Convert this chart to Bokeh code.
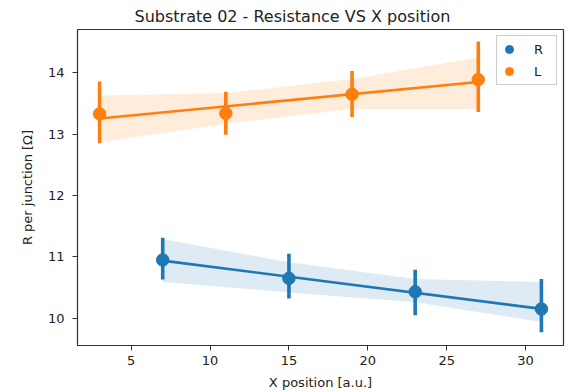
import numpy as np
from bokeh.plotting import figure
from bokeh.models import Range1d, Legend, LegendItem, FixedTicker
from bokeh.embed import file_html
from bokeh.resources import INLINE

# ---- data ----
r_x = [7, 15, 23, 31]
r_mean = [10.95, 10.65, 10.43, 10.15]
r_err_lo = [10.63, 10.32, 10.05, 9.77]
r_err_hi = [11.31, 11.05, 10.79, 10.64]
r_band_lo = [10.59, 10.42, 10.26, 9.94]
r_band_hi = [11.29, 10.91, 10.64, 10.59]

l_x = [3, 11, 19, 27]
l_mean = [13.33, 13.34, 13.65, 13.89]
l_err_lo = [12.85, 12.99, 13.28, 13.36]
l_err_hi = [13.86, 13.69, 14.03, 14.51]
l_band_lo = [12.87, 13.17, 13.41, 13.41]
l_band_hi = [13.63, 13.67, 13.90, 14.25]

x_ticks = [5, 10, 15, 20, 25, 30]
y_ticks = [10, 11, 12, 13, 14]

BLUE = "#1f77b4"
ORANGE = "#ff7f0e"
FONT = "DejaVu Sans"
TXT = "#222222"

p = figure(width=569, height=392, output_backend="svg", toolbar_location=None,
           x_range=Range1d(1.6, 32.4), y_range=Range1d(9.555, 14.706),
           min_border_left=77, min_border_right=6, min_border_top=29, min_border_bottom=47)

p.title.text = "Substrate 02 - Resistance VS X position"
p.title.align = "left"
p.title.text_font = FONT
p.title.text_font_style = "normal"
p.title.text_font_size = "16px"
p.title.text_color = TXT
p.title.offset = 57
p.title.standoff = 8

p.xgrid.visible = False
p.ygrid.visible = False
p.outline_line_color = "#333333"
p.outline_line_width = 1.2
p.background_fill_color = "white"
p.border_fill_color = "white"

for ax in (p.xaxis[0], p.yaxis[0]):
    ax.axis_line_color = "#333333"
    ax.major_tick_line_color = "#333333"
    ax.major_tick_out = 5
    ax.major_tick_in = 0
    ax.minor_tick_line_color = None
    ax.major_label_text_font = FONT
    ax.major_label_text_font_size = "13px"
    ax.major_label_text_color = TXT
    ax.axis_label_text_font = FONT
    ax.axis_label_text_font_size = "13px"
    ax.axis_label_text_font_style = "normal"
    ax.axis_label_text_color = TXT

p.xaxis.ticker = FixedTicker(ticks=x_ticks)
p.yaxis.ticker = FixedTicker(ticks=y_ticks)
p.xaxis.axis_label = "X position [a.u.]"
p.yaxis.axis_label = "R per junction [Ω]"
p.xaxis.major_label_standoff = 5
p.xaxis.axis_label_standoff = 7
p.yaxis.major_label_standoff = 8
p.yaxis.axis_label_standoff = 10


def series(xs, mean, elo, ehi, blo, bhi, color):
    p.varea(x=xs, y1=blo, y2=bhi, fill_color=color, fill_alpha=0.15)
    k, b = np.polyfit(xs, mean, 1)
    xl = [xs[0], xs[-1]]
    p.line(x=xl, y=[k * v + b for v in xl], line_color=color, line_width=2.6)
    p.segment(x0=xs, y0=elo, x1=xs, y1=ehi, line_color=color, line_width=3.6)
    return p.scatter(x=xs, y=mean, size=12.5, fill_color=color, line_color=color)


r_pts = series(r_x, r_mean, r_err_lo, r_err_hi, r_band_lo, r_band_hi, BLUE)
l_pts = series(l_x, l_mean, l_err_lo, l_err_hi, l_band_lo, l_band_hi, ORANGE)

legend = Legend(items=[LegendItem(label="R", renderers=[r_pts]),
                       LegendItem(label="L", renderers=[l_pts])],
                location="top_right", orientation="vertical")
legend.label_text_font = FONT
legend.label_text_font_size = "13px"
legend.label_text_color = TXT
legend.glyph_width = 20
legend.glyph_height = 22
legend.label_height = 22
legend.label_standoff = 15
legend.spacing = 0
legend.padding = 2
legend.margin = 6
legend.border_line_color = "#cccccc"
legend.border_line_alpha = 1.0
legend.background_fill_alpha = 0.8
p.add_layout(legend, "center")

open("out.html", "w").write(file_html(p, INLINE))
